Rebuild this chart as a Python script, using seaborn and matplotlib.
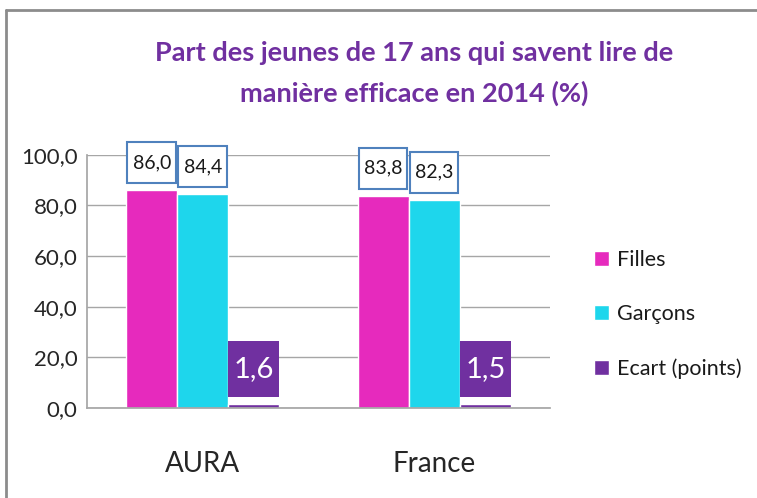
"""
Part des jeunes de 17 ans qui savent lire de manière efficace en 2014 (%)
Barres groupées AURA / France : Filles, Garçons, Ecart
"""

import numpy as np
import pandas as pd
import matplotlib
matplotlib.use("Agg")
import matplotlib.pyplot as plt
import seaborn as sns
from matplotlib.lines import Line2D
from matplotlib.patches import Rectangle

# ============================================================
# Données
# ============================================================
zones = ["AURA", "France"]
series = ["Filles", "Garçons", "Ecart (points)"]
filles = [86.0, 83.8]
garcons = [84.4, 82.3]
ecart = [1.6, 1.5]
y_ticks = [0, 20, 40, 60, 80, 100]

TITLE = "Part des jeunes de 17 ans qui savent lire de\nmanière efficace en 2014 (%)"
COLORS = ["#E62ABD", "#1ED6EC", "#7030A0"]
PURPLE = "#7030A0"
BOX_EDGE = "#4F81BD"
GRID = "#A6A6A6"

df = pd.DataFrame({
    "zone": zones * 3,
    "serie": [s for s in series for _ in zones],
    "valeur": filles + garcons + ecart,
})


def fr(v):
    # format français : virgule décimale
    return f"{v:.1f}".replace(".", ",")


# ============================================================
# Figure
# ============================================================
sns.set_theme(style="white")
plt.rcParams["font.family"] = ["Lato", "DejaVu Sans"]
plt.rcParams["text.color"] = "#1a1a1a"

fig = plt.figure(figsize=(7.57, 4.98), dpi=100)
ax = fig.add_axes([0.115, 0.181, 0.612, 0.508])

sns.barplot(data=df, x="zone", y="valeur", hue="serie",
            order=zones, hue_order=series, palette=COLORS,
            width=0.66, saturation=1, ax=ax)

# étiquettes de valeurs (cadres de la largeur de la barre)
for cont, name in zip(ax.containers, series):
    for bar in cont:
        v = bar.get_height()
        x0, w = bar.get_x(), bar.get_width()
        if name == series[2]:
            y0, h = v + 2.75, 22.1
            ax.add_patch(Rectangle((x0, y0), w, h, fc=PURPLE, ec="none",
                                   zorder=4, clip_on=False))
            ax.text(x0 + w / 2, y0 + h / 2, fr(v), ha="center", va="center",
                    fontsize=21, color="white", zorder=5)
        else:
            y0, h = v + 2.8, 16.2
            ax.add_patch(Rectangle((x0 + 0.004, y0), w - 0.012, h, fc="white",
                                   ec=BOX_EDGE, lw=1.5, zorder=4, clip_on=False))
            ax.text(x0 + w / 2, y0 + h / 2, fr(v), ha="center", va="center",
                    fontsize=14, zorder=5)

# axes
ax.set_ylim(0, 100)
ax.set_yticks(y_ticks)
ax.set_yticklabels([fr(v) for v in y_ticks])
ax.set_xlabel("")
ax.set_ylabel("")
ax.yaxis.grid(True, color=GRID, lw=1)
ax.set_axisbelow(True)
for s in ["top", "right"]:
    ax.spines[s].set_visible(False)
for s in ["left", "bottom"]:
    ax.spines[s].set_color(GRID)
ax.tick_params(axis="y", length=0, pad=7, labelsize=16)
ax.tick_params(axis="x", length=0, pad=31, labelsize=20)

# légende à droite
handles, labels = ax.get_legend_handles_labels()
ax.get_legend().remove()
fig.legend(handles, labels, loc="center left", bbox_to_anchor=(0.771, 0.368),
           frameon=False, fontsize=15.5, handlelength=0.7, handleheight=0.7,
           handletextpad=0.35, labelspacing=1.58, borderpad=0)

# titre
fig.text(0.547, 0.852, TITLE, ha="center", va="center", fontsize=19.5,
         fontweight="bold", color=PURPLE, linespacing=1.72)

# cadre gris (haut + gauche)
fig.add_artist(Line2D([0.008, 0.008], [0, 0.98], transform=fig.transFigure,
                      color="#8c8c8c", lw=2))
fig.add_artist(Line2D([0.008, 1], [0.98, 0.98], transform=fig.transFigure,
                      color="#8c8c8c", lw=2))

fig.savefig("out.png", dpi=100)
plt.close()
